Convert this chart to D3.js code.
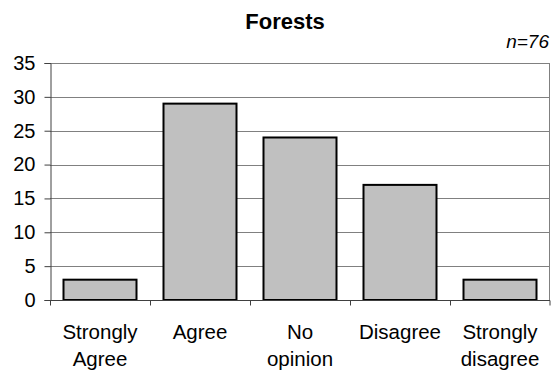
<!DOCTYPE html>
<html>
<head>
<meta charset="utf-8">
<script src="https://cdn.jsdelivr.net/npm/d3@7"></script>
<style>
  body { margin: 0; background: #fff; }
  text { font-family: Arial, "Liberation Sans", sans-serif; fill: #000; }
</style>
</head>
<body>
<div id="chart"></div>
<script>
const categories = [["Strongly", "Agree"], ["Agree"], ["No", "opinion"], ["Disagree"], ["Strongly", "disagree"]];
const values = [3, 29, 24, 17, 3];
const yTicks = [0, 5, 10, 15, 20, 25, 30, 35];
const title = "Forests";
const note = "n=76";

const W = 551, H = 377;
const margin = { top: 63, right: 1, bottom: 77, left: 50 };
const width = W - margin.left - margin.right;
const height = H - margin.top - margin.bottom;

const svg = d3.select("#chart")
  .append("svg")
  .attr("width", W)
  .attr("height", H);

const g = svg.append("g")
  .attr("transform", `translate(${margin.left},${margin.top})`);

const xScale = d3.scaleBand()
  .domain(d3.range(categories.length))
  .range([0, width])
  .paddingInner(0.27)
  .paddingOuter(0.135);

const yScale = d3.scaleLinear()
  .domain([0, 35])
  .range([height, 0]);

// gridlines
g.selectAll(".grid")
  .data(yTicks.filter(d => d > 0))
  .enter()
  .append("line")
  .attr("class", "grid")
  .attr("x1", 0)
  .attr("x2", width)
  .attr("y1", d => Math.round(yScale(d)) + 0.5)
  .attr("y2", d => Math.round(yScale(d)) + 0.5)
  .attr("stroke", "#808080")
  .attr("stroke-width", 1);

// right border
g.append("line")
  .attr("x1", width - 0.5)
  .attr("x2", width - 0.5)
  .attr("y1", Math.round(yScale(35)) + 0.5)
  .attr("y2", height)
  .attr("stroke", "#808080");

// bars
g.selectAll(".bar")
  .data(values)
  .enter()
  .append("rect")
  .attr("class", "bar")
  .attr("x", (d, i) => xScale(i))
  .attr("y", d => yScale(d))
  .attr("width", xScale.bandwidth())
  .attr("height", d => height - yScale(d))
  .attr("fill", "#c0c0c0")
  .attr("stroke", "#000")
  .attr("stroke-width", 2);

// y axis
const yAxis = d3.axisLeft(yScale).tickValues(yTicks).tickSize(6).tickPadding(9);
const yg = g.append("g").attr("transform", "translate(0.5,0)").call(yAxis);
yg.select(".domain").attr("stroke", "#404040");
yg.selectAll(".tick line").attr("stroke", "#404040");
yg.selectAll(".tick text").style("font-size", "20px").attr("fill", "#000");

// x axis with ticks at category boundaries
const step = xScale.step();
const xg = g.append("g").attr("transform", `translate(0,${height + 0.5})`);
xg.append("line")
  .attr("x1", 0).attr("x2", width)
  .attr("stroke", "#404040");
xg.selectAll(".xtick")
  .data(d3.range(categories.length + 1))
  .enter()
  .append("line")
  .attr("class", "xtick")
  .attr("x1", d => Math.min(d * step, width - 0.5) + 0.5)
  .attr("x2", d => Math.min(d * step, width - 0.5) + 0.5)
  .attr("y1", 0)
  .attr("y2", 5)
  .attr("stroke", "#404040");

const labels = xg.selectAll(".xlabel")
  .data(categories)
  .enter()
  .append("text")
  .attr("class", "xlabel")
  .attr("text-anchor", "middle")
  .style("font-size", "20.5px")
  .attr("transform", (d, i) => `translate(${xScale(i) + xScale.bandwidth() / 2},38)`);
labels.selectAll("tspan")
  .data(d => d)
  .enter()
  .append("tspan")
  .attr("x", 0)
  .attr("y", (d, i) => i * 27)
  .text(d => d);

// title
svg.append("text")
  .attr("x", 285)
  .attr("y", 29)
  .attr("text-anchor", "middle")
  .style("font-size", "22px")
  .style("font-weight", "bold")
  .text(title);

svg.append("text")
  .attr("x", 549)
  .attr("y", 48)
  .attr("text-anchor", "end")
  .style("font-size", "19px")
  .style("font-style", "italic")
  .text(note);
</script>
</body>
</html>
